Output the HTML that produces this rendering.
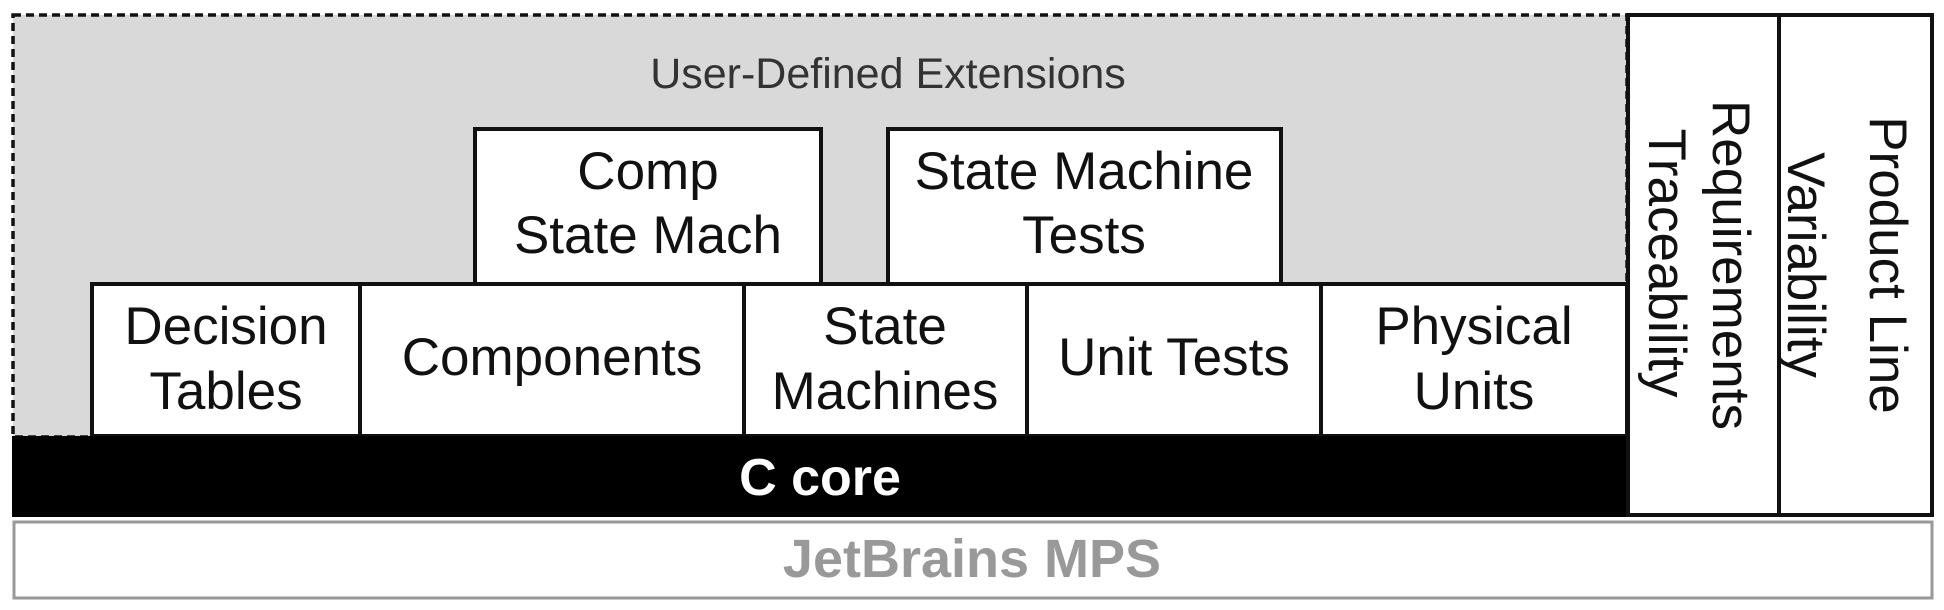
<!DOCTYPE html>
<html><head><meta charset="utf-8"><style>html,body{margin:0;padding:0;background:#fff}svg{display:block}</style></head>
<body>
<svg width="1944" height="610" viewBox="0 0 1944 610" xmlns="http://www.w3.org/2000/svg" font-family="Liberation Sans, Arial, sans-serif">
<rect x="0" y="0" width="1944" height="610" fill="#fff"/>
<rect x="13" y="15" width="1614" height="422" fill="#d9d9d9" stroke="#111" stroke-width="3.5" stroke-dasharray="8,5"/>
<text x="888" y="88" font-size="43" fill="#333" text-anchor="middle">User-Defined Extensions</text>
<rect x="475" y="129" width="346" height="155" fill="#fff" stroke="#111" stroke-width="4"/>
<text x="648" y="189" font-size="53" text-anchor="middle" fill="#111">Comp</text>
<text x="648" y="253" font-size="53" text-anchor="middle" fill="#111">State Mach</text>
<rect x="888" y="129" width="393" height="155" fill="#fff" stroke="#111" stroke-width="4"/>
<text x="1084" y="189" font-size="53" text-anchor="middle" fill="#111">State Machine</text>
<text x="1084" y="253" font-size="53" text-anchor="middle" fill="#111">Tests</text>
<g fill="#fff" stroke="#111" stroke-width="4">
<rect x="92" y="284" width="268" height="152"/>
<rect x="360" y="284" width="384" height="152"/>
<rect x="744" y="284" width="283" height="152"/>
<rect x="1027" y="284" width="294" height="152"/>
<rect x="1321" y="284" width="306" height="152"/>
</g>
<g font-size="53" text-anchor="middle" fill="#111">
<text x="226" y="344">Decision</text><text x="226" y="409">Tables</text>
<text x="552" y="375">Components</text>
<text x="885" y="344">State</text><text x="885" y="409">Machines</text>
<text x="1174" y="375">Unit Tests</text>
<text x="1474" y="344">Physical</text><text x="1474" y="409">Units</text>
</g>
<rect x="12" y="436" width="1617" height="81" fill="#000"/>
<text x="820" y="495" font-size="52" font-weight="bold" fill="#fff" text-anchor="middle">C core</text>
<rect x="1628" y="15" width="151" height="500" fill="#fff" stroke="#111" stroke-width="4"/>
<rect x="1779" y="15" width="153" height="500" fill="#fff" stroke="#111" stroke-width="4"/>
<g font-size="53" text-anchor="middle" fill="#111">
<text transform="translate(1713,265) rotate(90)">Requirements</text>
<text transform="translate(1649,263) rotate(90)">Traceability</text>
<text transform="translate(1870,265) rotate(90)">Product Line</text>
<text transform="translate(1788,265) rotate(90)">Variability</text>
</g>
<rect x="14" y="522" width="1918" height="76" fill="#fff" stroke="#999" stroke-width="3"/>
<text x="972" y="577" font-size="54" font-weight="bold" fill="#999" text-anchor="middle">JetBrains MPS</text>
</svg>
</body></html>
